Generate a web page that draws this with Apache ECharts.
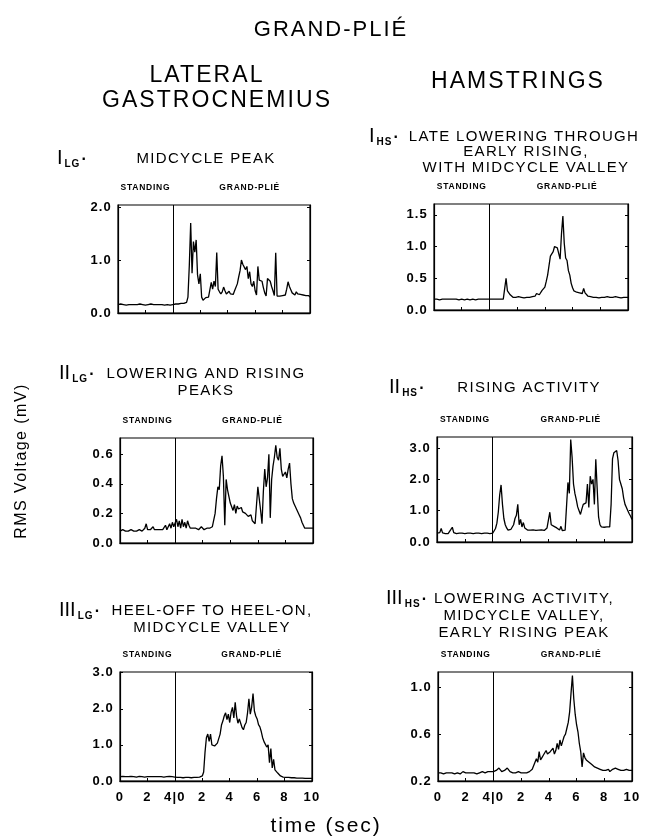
<!DOCTYPE html>
<html lang="en">
<head>
<meta charset="utf-8">
<title>Grand-plié EMG</title>
</head>
<body style="margin: 0; background: #fff">
<div id="container" style="width: 648px; height: 838px"></div>

<script type="text/javascript" src="https://cdn.jsdelivr.net/npm/echarts/dist/echarts.min.js"></script>

<script type="text/javascript">

// time axis: 0-4 s standing, then 0-10 s grand-plie (plotted as 4-14)
var xTickValues = [0, 2, 4, 6, 8, 10, 12, 14];
var xTickLabels = ['0', '2', '4|0', '2', '4', '6', '8', '10'];
var sampleStep = 0.1;  // seconds between samples
var dividerAt = 4;

// RMS voltage (mV), one sample every 0.1 s from 0 to 14 s
var lgMidcyclePeak = [
  0.16,0.16,0.17,0.16,0.16,0.16,0.15,0.16,0.16,0.17,
  0.16,0.16,0.16,0.15,0.16,0.16,0.17,0.16,0.16,0.16,
  0.15,0.16,0.16,0.16,0.17,0.16,0.16,0.15,0.16,0.16,
  0.16,0.17,0.16,0.16,0.15,0.16,0.16,0.16,0.15,0.16,
  0.16,
  0.17,0.17,0.18,0.17,0.18,0.18,0.17,0.18,0.18,0.20,
  0.30,0.90,1.70,0.75,1.35,1.15,1.38,0.72,0.55,0.74,
  0.30,0.24,0.26,0.29,0.28,0.30,0.32,0.58,0.45,0.60,
  0.50,1.14,0.45,0.40,0.36,0.40,0.49,0.42,0.36,0.38,
  0.41,0.36,0.39,0.35,0.42,0.40,0.55,0.68,0.80,1.00,
  0.92,0.95,0.82,0.88,0.65,0.78,0.55,0.50,0.60,0.42,
  0.34,0.88,0.62,0.65,0.60,0.48,0.38,0.32,0.65,0.62,
  0.60,0.50,0.42,0.33,1.14,0.32,0.31,0.32,0.30,0.33,
  0.31,0.34,0.45,0.59,0.50,0.44,0.38,0.37,0.34,0.40,
  0.36,0.38,0.35,0.37,0.34,0.36,0.33,0.31,0.33,0.30
];

var hsLateLowering = [
  0.17,0.16,0.17,0.17,0.16,0.17,0.17,0.16,0.17,0.17,
  0.17,0.16,0.17,0.17,0.17,0.16,0.17,0.17,0.16,0.17,
  0.17,0.17,0.16,0.17,0.17,0.17,0.16,0.17,0.17,0.17,
  0.16,0.17,0.17,0.16,0.17,0.17,0.17,0.16,0.17,0.17,
  0.17,
  0.17,0.17,0.16,0.17,0.17,0.17,0.16,0.17,0.17,0.17,
  0.17,0.50,0.30,0.27,0.24,0.22,0.20,0.18,0.20,0.19,
  0.21,0.19,0.20,0.21,0.19,0.21,0.20,0.21,0.20,0.22,
  0.21,0.23,0.22,0.26,0.29,0.24,0.26,0.31,0.28,0.36,
  0.45,0.55,0.70,0.85,0.82,0.92,1.00,1.02,0.98,1.01,
  0.80,1.20,1.48,1.05,0.82,0.78,0.62,0.55,0.42,0.35,
  0.30,0.29,0.28,0.30,0.27,0.29,0.26,0.34,0.27,0.24,
  0.22,0.21,0.21,0.20,0.20,0.19,0.20,0.20,0.19,0.20,
  0.20,0.19,0.20,0.20,0.21,0.20,0.20,0.19,0.20,0.20,
  0.21,0.20,0.20,0.20,0.19,0.20,0.20,0.21,0.20,0.20
];

var lgLoweringRising = [
  0.08,0.08,0.09,0.08,0.08,0.09,0.08,0.08,0.09,0.08,
  0.08,0.09,0.08,0.08,0.09,0.08,0.08,0.09,0.10,0.13,
  0.09,0.08,0.09,0.08,0.11,0.09,0.08,0.09,0.08,0.09,
  0.08,0.09,0.10,0.12,0.09,0.10,0.13,0.10,0.14,0.11,
  0.12,
  0.16,0.11,0.15,0.10,0.16,0.11,0.14,0.10,0.15,0.12,
  0.10,0.09,0.10,0.09,0.10,0.10,0.09,0.10,0.11,0.10,
  0.09,0.10,0.10,0.11,0.10,0.10,0.11,0.12,0.20,0.30,
  0.38,0.36,0.52,0.59,0.45,0.12,0.43,0.36,0.37,0.27,
  0.28,0.22,0.26,0.20,0.25,0.23,0.22,0.24,0.21,0.22,
  0.20,0.21,0.18,0.17,0.19,0.15,0.14,0.13,0.12,0.38,
  0.30,0.22,0.13,0.35,0.50,0.38,0.44,0.60,0.17,0.43,
  0.52,0.58,0.66,0.58,0.56,0.64,0.50,0.45,0.44,0.48,
  0.44,0.50,0.54,0.40,0.30,0.27,0.25,0.23,0.22,0.19,
  0.17,0.14,0.12,0.10,0.11,0.10,0.09,0.10,0.11,0.10
];

var hsRising = [
  0.28,0.27,0.30,0.43,0.29,0.28,0.27,0.28,0.27,0.29,
  0.40,0.47,0.30,0.28,0.27,0.28,0.28,0.27,0.28,0.28,
  0.27,0.28,0.28,0.27,0.28,0.28,0.27,0.28,0.28,0.27,
  0.28,0.28,0.27,0.28,0.28,0.27,0.28,0.28,0.27,0.28,
  0.28,
  0.32,0.43,0.60,0.95,1.50,1.82,1.20,0.75,0.55,0.45,
  0.38,0.37,0.40,0.45,0.55,0.75,0.85,1.20,0.55,0.72,
  0.48,0.62,0.45,0.40,0.38,0.40,0.38,0.37,0.39,0.38,
  0.37,0.39,0.38,0.37,0.39,0.38,0.37,0.40,0.45,0.50,
  0.95,0.55,0.60,0.50,0.52,0.45,0.40,0.38,0.50,0.36,
  0.40,0.38,0.42,1.90,1.55,3.27,2.70,1.85,1.55,1.35,
  1.12,1.00,0.88,1.05,1.20,1.15,1.25,1.85,1.10,2.10,
  1.85,2.00,1.20,2.64,1.70,0.80,0.55,0.48,0.50,0.47,
  0.50,0.48,0.50,0.48,1.20,2.65,2.85,2.90,2.92,2.60,
  2.00,1.85,1.70,1.40,1.20,1.10,1.00,0.90,0.82,0.72
];

var lgHeelOff = [
  0.12,0.12,0.13,0.12,0.12,0.11,0.12,0.12,0.13,0.12,
  0.12,0.12,0.11,0.12,0.13,0.12,0.12,0.12,0.11,0.12,
  0.12,0.13,0.12,0.12,0.12,0.11,0.12,0.12,0.12,0.13,
  0.12,0.12,0.11,0.12,0.12,0.12,0.13,0.12,0.12,0.12,
  0.11,
  0.10,0.10,0.09,0.10,0.10,0.09,0.10,0.10,0.11,0.10,
  0.10,0.09,0.10,0.10,0.11,0.10,0.10,0.11,0.12,0.14,
  0.25,0.80,1.20,1.30,1.10,1.30,1.00,0.95,0.97,0.95,
  1.05,1.08,1.30,1.55,1.66,1.80,1.89,1.70,1.85,1.62,
  1.90,2.04,1.75,2.18,1.80,1.60,1.72,1.60,1.48,1.42,
  1.55,1.62,1.89,2.28,1.85,2.05,2.42,1.94,1.80,1.72,
  1.56,1.50,1.37,1.20,1.09,1.12,0.94,1.00,0.51,0.90,
  0.36,0.60,0.31,0.26,0.22,0.20,0.14,0.12,0.11,0.10,
  0.10,0.09,0.10,0.09,0.09,0.08,0.09,0.08,0.08,0.08,
  0.08,0.07,0.08,0.07,0.07,0.08,0.07,0.07,0.07,0.07
];

var hsLowering = [
  0.27,0.26,0.27,0.27,0.26,0.27,0.27,0.28,0.27,0.26,
  0.27,0.27,0.26,0.27,0.27,0.27,0.26,0.27,0.28,0.27,
  0.27,0.26,0.27,0.27,0.27,0.28,0.27,0.27,0.26,0.27,
  0.27,0.27,0.28,0.27,0.27,0.27,0.28,0.27,0.28,0.27,
  0.28,
  0.28,0.29,0.30,0.31,0.30,0.28,0.27,0.29,0.30,0.31,
  0.32,0.28,0.27,0.27,0.28,0.27,0.27,0.28,0.27,0.27,
  0.28,0.27,0.28,0.27,0.27,0.28,0.27,0.30,0.33,0.36,
  0.39,0.36,0.45,0.38,0.40,0.42,0.42,0.46,0.43,0.44,
  0.45,0.45,0.48,0.43,0.46,0.52,0.47,0.55,0.50,0.54,
  0.58,0.60,0.65,0.70,0.79,0.95,1.10,0.90,0.77,0.68,
  0.62,0.52,0.45,0.32,0.44,0.40,0.38,0.37,0.36,0.35,
  0.34,0.33,0.32,0.32,0.31,0.31,0.30,0.30,0.29,0.28,
  0.29,0.29,0.30,0.28,0.29,0.30,0.29,0.31,0.32,0.30,
  0.29,0.29,0.30,0.29,0.29,0.30,0.29,0.29,0.28,0.29
];

// y-axis tick labels per panel
var lgPeakTicks = [0, 1, 2];
var hsLateTicks = [0, 0.5, 1, 1.5];
var lgRiseTicks = [0, 0.2, 0.4, 0.6];
var hsRiseTicks = [0, 1, 2, 3];
var lgHeelTicks = [0, 1, 2, 3];
var hsLowerTicks = [0.2, 0.6, 1.0];

var panels = [
  { values: lgMidcyclePeak,   ticks: lgPeakTicks,  min: 0,   max: 2.04, box: [118, 205, 192, 108], xLabels: false },
  { values: hsLateLowering,   ticks: hsLateTicks,  min: 0,   max: 1.67, box: [434, 204, 194, 106], xLabels: false },
  { values: lgLoweringRising, ticks: lgRiseTicks,  min: 0,   max: 0.71, box: [120, 438, 193, 105], xLabels: false },
  { values: hsRising,         ticks: hsRiseTicks,  min: 0,   max: 3.35, box: [437, 437, 195, 105], xLabels: false },
  { values: lgHeelOff,        ticks: lgHeelTicks,  min: 0,   max: 3.02, box: [120, 672, 192, 109], xLabels: true },
  { values: hsLowering,       ticks: hsLowerTicks, min: 0.2, max: 1.13, box: [438, 672, 194, 109], xLabels: true }
];

var FONT = '"Liberation Sans", Arial, Helvetica, sans-serif';
var NUMERAL_FONT = 'Arial, sans-serif';  // same face, but left untracked

// the original lettering is widely tracked; canvas supports letterSpacing
(function () {
  var proto = CanvasRenderingContext2D.prototype;
  var fill = proto.fillText;
  proto.fillText = function () {
    var m = /(\d+(?:\.\d+)?)px/.exec(this.font);
    var tracked = m && this.font.indexOf('Liberation Sans') >= 0;
    this.letterSpacing = tracked ? (parseFloat(m[1]) * 0.09).toFixed(2) + 'px' : '0px';
    return fill.apply(this, arguments);
  };
})();

var dom = document.getElementById('container');
var myChart = echarts.init(dom, null, { renderer: 'canvas' });

var grids = [], xAxes = [], yAxes = [], series = [], graphics = [];

function txt(text, x, y, size, weight, align, rotation, family) {
  graphics.push({
    type: 'text',
    x: x,
    y: y,
    rotation: rotation || 0,
    silent: true,
    style: {
      text: text,
      fill: '#000',
      font: (weight || 'normal') + ' ' + size + 'px ' + (family || FONT),
      align: align || 'center',
      verticalAlign: 'middle',
      textAlign: align || 'center',
      textVerticalAlign: 'middle'
    }
  });
}

panels.forEach(function (p, i) {
  grids.push({
    left: p.box[0], top: p.box[1], width: p.box[2], height: p.box[3],
    show: true, borderColor: '#000', borderWidth: 1.2, backgroundColor: 'transparent'
  });
  xAxes.push({
    gridIndex: i, type: 'value', min: 0, max: 14, position: 'bottom',
    axisLine: { show: true, onZero: false, lineStyle: { color: '#000', width: 1.4 } },
    axisTick: { show: true, inside: true, length: 3, customValues: xTickValues, lineStyle: { color: '#000' } },
    axisLabel: {
      show: p.xLabels, customValues: xTickValues, margin: 10,
      color: '#000', fontFamily: FONT, fontWeight: 'bold', fontSize: 13,
      formatter: function (v) {
        var k = xTickValues.indexOf(Math.round(v));
        return k >= 0 ? xTickLabels[k] : '';
      }
    },
    splitLine: { show: false }
  });
  yAxes.push({
    gridIndex: i, type: 'value', min: p.min, max: p.max, position: 'left',
    axisLine: { show: true, onZero: false, lineStyle: { color: '#000', width: 1.2 } },
    axisTick: { show: true, inside: true, length: 3, customValues: p.ticks, lineStyle: { color: '#000' } },
    axisLabel: {
      customValues: p.ticks, margin: 6,
      color: '#000', fontFamily: FONT, fontWeight: 'bold', fontSize: 13,
      formatter: function (v) { return Number(v).toFixed(1); }
    },
    splitLine: { show: false }
  });
  yAxes.push({
    gridIndex: i, type: 'value', min: p.min, max: p.max, position: 'right',
    axisLine: { show: true, onZero: false, lineStyle: { color: '#000', width: 1.2 } },
    axisTick: { show: true, inside: true, length: 3, customValues: p.ticks, lineStyle: { color: '#000' } },
    axisLabel: { show: false },
    splitLine: { show: false }
  });
  series.push({
    type: 'line',
    xAxisIndex: i,
    yAxisIndex: 2 * i,
    showSymbol: false,
    silent: true,
    lineStyle: { color: '#000', width: 1.3 },
    data: p.values.map(function (v, k) { return [Math.round(k * sampleStep * 10) / 10, v]; }),
    markLine: {
      silent: true, symbol: 'none', label: { show: false },
      lineStyle: { color: '#000', type: 'solid', width: 1 },
      data: [{ xAxis: dividerAt }]
    }
  });

  // STANDING / GRAND-PLIÉ headers over each box
  var bx = p.box[0], bw = p.box[2];
  var divX = bx + bw * dividerAt / 14;
  txt('STANDING', (bx + divX) / 2, p.box[1] - 17, 8.5, 'bold');
  txt('GRAND-PLIÉ', divX + (bx + bw - divX) * 0.56, p.box[1] - 17, 8.5, 'bold');
});

// page titles
txt('GRAND-PLIÉ', 331, 30, 22);
txt('LATERAL', 207, 76, 23);
txt('GASTROCNEMIUS', 217, 101, 23);
txt('HAMSTRINGS', 518, 82, 23);

// panel captions: roman numeral, subscript, period, caption
function caption(numeral, sub, x, y, lines, cx, dy) {
  txt(numeral, x, y, 20, 'normal', 'left', 0, NUMERAL_FONT);
  var nw = numeral.length * 5.6;
  txt(sub, x + nw + 2, y + 6, 10, 'bold', 'left');
  txt('.', x + nw + 3 + sub.length * 8, y - 2, 16, 'bold', 'left');
  lines.forEach(function (s, k) { txt(s, cx, y + 1 + k * dy, 15); });
}
caption('I', 'LG', 57, 158, ['MIDCYCLE PEAK'], 206, 16);
caption('I', 'HS', 369, 136, ['LATE LOWERING THROUGH'], 524, 16);
txt('EARLY RISING,', 526, 152, 15);
txt('WITH MIDCYCLE VALLEY', 526, 168, 15);
caption('II', 'LG', 59, 373, ['LOWERING AND RISING', 'PEAKS'], 206, 17);
caption('II', 'HS', 389, 387, ['RISING ACTIVITY'], 529, 17);
caption('III', 'LG', 59, 610, ['HEEL-OFF TO HEEL-ON,', 'MIDCYCLE VALLEY'], 212, 17);
caption('III', 'HS', 386, 598, ['LOWERING ACTIVITY,', 'MIDCYCLE VALLEY,', 'EARLY RISING PEAK'], 524, 17);

// shared axis titles
txt('RMS Voltage (mV)', 22, 461, 16, 'normal', 'center', Math.PI / 2);
txt('time (sec)', 326, 826, 21);

var option = {
  animation: false,
  backgroundColor: '#fff',
  grid: grids,
  xAxis: xAxes,
  yAxis: yAxes,
  series: series,
  graphic: { elements: graphics }
};

myChart.setOption(option);
window.addEventListener('resize', myChart.resize);
</script>
</body>
</html>
